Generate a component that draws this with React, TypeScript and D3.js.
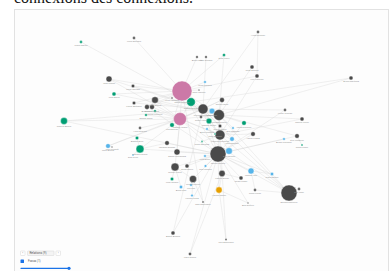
import React from 'react';
import * as d3 from 'd3';

const W = 390;
const H = 271;

// node data: group, layout position (force-layout units, centred on 0) and degree
const nodeGroups = [
  'g', 'd', 'd', 'd', 'g', 'd', 'd', 'd', 'p', 'g',
  'd', 'g', 'd', 'd', 'd', 'g', 'g', 'p', 'g', 'g',
  'd', 'd', 'd', 'd', 'd', 'b', 'd', 'd', 'd', 'b',
  'd', 'g', 'd', 'g', 'd', 'd', 'd', 'b', 'b', 'd',
  'g', 'd', 'd', 'b', 'g', 'b', 'g', 'd', 'b', 'b',
  'd', 'b', 'd', 'b', 'b', 'd', 'd', 'b', 'b', 'o',
  'd', 'd', 'd', 'b', 'd', 'd', 'd', 'g', 'd', 'b',
  'd', 'g', 'b', 'd', 'd', 'g', 'd', 'd',
];
const layoutX = [
  -114, -61, 2, 11, 29, 63, -86, -62, -13, -4,
  -40, -81, -61, -48, -43, -40, -49, -15, -131, -23,
  -55, -23, 57, 62, 156, 10, 4, 27, 8, 17,
  24, 14, 6, 49, 90, 107, 25, 38, 12, 25,
  20, 58, 102, 89, 107, 37, 7, 23, 34, 10,
  -8, 10.5, 27, 56, 77, 46, -2, -4, -14, 24,
  60, 94, 104, -3, 8, 53, 31, -58, -28, -87,
  -83, -55, -62, -18, -20, -23, -22, -5,
];
const layoutY = [
  -93, -97, -78, -78, -80, -103, -56, -49, -44, -33,
  -35, -41, -32, -28, -28, -24, -20, -16, -14, -10,
  -7, -37, -68, -59, -57, -53, -45, -35, -26, -24,
  -20, -14, -18, -12, -25, -16, -9, -7, -6, 0,
  -1, -1, 1, 4, 10, 4, 6.5, 19, 16, 21,
  31, 31, 38.5, 36, 39, 43, 44, 50, 52, 55,
  55, 58, 54, 60.5, 67, 68, 104.5, 3, 8, 11,
  12, 14, 20, 17, 32, 44, 98, 119,
];
const nodeDegree = [
  2, 2, 1.5, 1.5, 2.3, 2, 9, 3, 100, 18,
  11, 4, 3, 6, 6, 1.8, 1.8, 42, 12, 5,
  2, 0.8, 4, 4, 4, 1.8, 0.7, 6, 25, 8,
  30, 8, 2, 5, 2, 4, 3, 1.5, 1.5, 25,
  0.8, 5, 5, 1.8, 1, 5, 0.8, 64, 11, 1.8,
  4, 1.8, 10, 9, 2.8, 4, 13, 1.8, 2.8, 10,
  2, 64, 2, 1.5, 1, 0.6, 1, 3, 5, 5.5,
  0.6, 16, 1, 9, 16, 3, 4, 2.2,
];
const nodeNames = [
  'Claire Martin', 'Louis Bernard', 'Anne Petit', 'Paul Durand', 'Élise Leroy', 'Hugo Moreau',
  'Jean Simon', 'Lucie Laurent', 'Marie Lefebvre', 'Sophie Michel', 'Marc Garcia', 'Julie David',
  'Pierre Bertrand', 'Alain Roux', 'Denis Vincent', 'Chloé Fournier', 'Emma Morel', 'Isabelle Girard',
  'Camille André', 'Léa Mercier', 'Henri Dupont', 'Yves Lambert', 'Théo Bonnet', 'Luc François',
  'Bruno Martinez', 'Nina Legrand', 'Rémi Garnier', 'Olivier Faure', 'Nicolas Rousseau', 'Inès Blanc',
  'Philippe Guérin', 'Manon Muller', 'Gilles Henry', 'Laura Roussel', 'Victor Nicolas', 'Marcel Perrin',
  'Simon Morin', 'Zoé Mathieu', 'Alice Clément', 'François Gauthier', 'Jade Dumont', 'Xavier Lopez',
  'Éric Fontaine', 'Anaïs Chevalier', 'Sarah Robin', 'Lina Masson', 'Rose Sanchez', 'Michel Gérard',
  'Eva Nguyen', 'Lola Boyer', 'Serge Denis', 'Mia Lemaire', 'Patrick Duval', 'Jeanne Joly',
  'Clara Gautier', 'Roger Roger', 'Thierry Roche', 'Lou Roy', 'Anna Noël', 'Hélène Meyer',
  'René Lucas', 'Bernard Meunier', 'Guy Jean', 'Louise Perez', 'Max Marchand', 'Axel Dufour',
  'Noé Blanchard', 'Agathe Brun', 'Jacques Dumas', 'Nora Brunet', 'Tom Schmitt', 'Margot Leroux',
  'Elsa Colin', 'Daniel Fernandez', 'Michel Pierre', 'Julia Renard', 'Albert Arnaud', 'Yann Giraud',
];

// links between nodes (1-based ids)
const links: [number, number][] = [
  [9, 10], [9, 11], [9, 18], [9, 29], [9, 31], [9, 14], [9, 15], [9, 22], [9, 27], [9, 26],
  [9, 12], [9, 8], [9, 13], [9, 20], [9, 48], [9, 40],
  [18, 10], [18, 29], [18, 31], [18, 48], [18, 40], [18, 20], [18, 16], [18, 17], [18, 21],
  [18, 74], [18, 75], [18, 11],
  [29, 31], [29, 30], [29, 33], [29, 28], [29, 48], [29, 40], [29, 32],
  [31, 30], [31, 28], [31, 37], [31, 34], [31, 48], [31, 40], [31, 38],
  [40, 48], [40, 39], [40, 41], [40, 46], [40, 47], [40, 42],
  [48, 49], [48, 50], [48, 52], [48, 53], [48, 51], [48, 57], [48, 54], [48, 56], [48, 60],
  [48, 74], [48, 75], [48, 69],
  [75, 57], [75, 76], [75, 59], [57, 58], [57, 64], [57, 65], [53, 60], [53, 56], [54, 55], [54, 61],
  [72, 68], [72, 73], [72, 18], [72, 48], [72, 69], [70, 71], [70, 18], [70, 29],
  [1, 29], [2, 9], [3, 9], [4, 29], [5, 31], [5, 9], [6, 24], [6, 29], [23, 31], [24, 40],
  [24, 9], [25, 10], [25, 31], [7, 9], [7, 31], [7, 18], [19, 18], [19, 29], [19, 48], [12, 31],
  [77, 48], [77, 29], [78, 48], [78, 53], [67, 60], [67, 40],
  [62, 48], [62, 29], [62, 40], [62, 31], [62, 63], [62, 61], [62, 18],
  [36, 31], [36, 40], [35, 48], [35, 29], [43, 48], [43, 31], [45, 43], [44, 48], [42, 48],
  [55, 48], [66, 60], [66, 48], [65, 9], [34, 48], [46, 29], [49, 29], [28, 18], [11, 31],
  [13, 29], [14, 48], [15, 40], [8, 29],
];

const groupKeys = ['p', 'g', 'b', 'o', 'd'];
const groupColors = ['#cc79a7', '#009e73', '#56b4e9', '#e69f00', '#4a4a4a'];

const headline = 'connexions des connexions.';
const relationLabel = 'Relations (9)';
const focusLabel = 'Focus (1)';

export default function App() {
  const x = d3.scaleLinear().domain([-195, 195]).range([0, W]);
  const y = d3.scaleLinear().domain([-135, 136]).range([0, H]);
  const r = d3.scaleSqrt().domain([0, d3.max(nodeDegree) as number]).range([0, 10]);
  const color = d3.scaleOrdinal<string, string>().domain(groupKeys).range(groupColors);

  const nodes = nodeGroups.map((g, i) => ({
    id: i + 1,
    group: g,
    name: nodeNames[i],
    cx: x(layoutX[i]),
    cy: y(layoutY[i]),
    radius: r(nodeDegree[i]),
  }));
  const byId = new Map(nodes.map(n => [n.id, n]));

  const slider = d3.scaleLinear().domain([0, 1]).range([21, 69]);

  return (
    <svg
      width={W}
      height={H}
      style={{ position: 'absolute', left: 0, top: 0, background: '#fff' }}
    >
      <text x={14} y={3} fontFamily="'Liberation Serif', serif" fontSize={16} fill="#111">
        {headline}
      </text>
      <rect x={14.5} y={9.5} width={374} height={280} fill="#fdfdfd" stroke="#e2e2e2" />

      <g>
        {links.map(([s, t], i) => {
          const a = byId.get(s)!;
          const b = byId.get(t)!;
          return (
            <line
              key={i}
              x1={a.cx}
              y1={a.cy}
              x2={b.cx}
              y2={b.cy}
              stroke="#d4d4d4"
              strokeOpacity={0.7}
              strokeWidth={0.5}
            />
          );
        })}
      </g>

      <g>
        {nodes.map(n => (
          <circle
            key={n.id}
            cx={n.cx}
            cy={n.cy}
            r={Math.max(n.radius, 0.8)}
            fill={color(n.group)}
            stroke="#fff"
            strokeWidth={0.4}
          />
        ))}
      </g>

      <g fontFamily="Roboto, sans-serif" fontSize={2.3} fill="#999" textAnchor="middle">
        {nodes.map(n => (
          <text key={n.id} x={n.cx} y={n.cy + Math.max(n.radius, 0.8) + 2.4}>
            {n.name}
          </text>
        ))}
      </g>

      {/* controls */}
      <g fontFamily="Roboto, sans-serif" fontSize={3} fill="#555">
        <rect x={20.5} y={251} width={4.5} height={4.5} fill="#fff" stroke="#ccc" strokeWidth={0.4} rx={0.6} />
        <text x={22.75} y={254.4} textAnchor="middle">‹</text>
        <rect x={27.5} y={251} width={26.5} height={4.5} fill="#f4f4f4" stroke="#ccc" strokeWidth={0.4} rx={0.6} />
        <text x={29.5} y={254.3}>{relationLabel}</text>
        <rect x={56} y={251} width={4.5} height={4.5} fill="#fff" stroke="#ccc" strokeWidth={0.4} rx={0.6} />
        <text x={58.25} y={254.4} textAnchor="middle">›</text>
        <rect x={20.5} y={259.5} width={3.5} height={3.5} fill="#1a73e8" rx={0.6} />
        <text x={28} y={262.4}>{focusLabel}</text>
        <line x1={slider(0)} x2={slider(1)} y1={268.3} y2={268.3} stroke="#1a73e8" strokeWidth={1.3} strokeLinecap="round" />
        <circle cx={slider(1)} cy={268.3} r={1.6} fill="#1a73e8" />
      </g>
    </svg>
  );
}
